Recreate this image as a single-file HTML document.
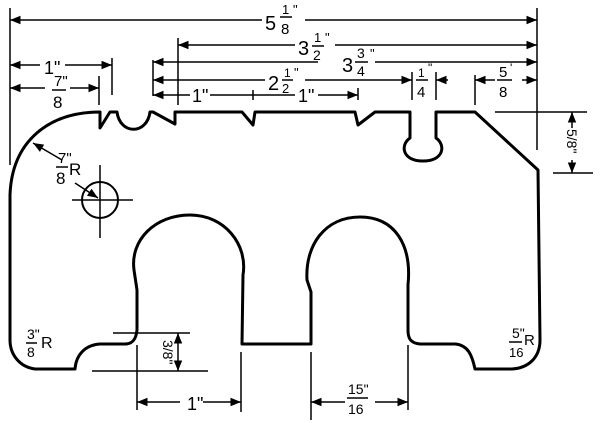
<!DOCTYPE html>
<html><head><meta charset="utf-8"><style>
html,body{margin:0;padding:0;background:#fff;}
svg{display:block;}
text{font-family:"Liberation Sans",sans-serif;fill:#000;}
</style></head><body>
<svg width="600" height="423" viewBox="0 0 600 423" xmlns="http://www.w3.org/2000/svg">
<defs>
<marker id="a" viewBox="0 0 10 10" refX="10" refY="5" markerWidth="7" markerHeight="7" orient="auto-start-reverse"><path d="M0,1 L10,5 L0,9 z" fill="#000"/></marker>
</defs>
<g fill="none" stroke="#000" stroke-width="3" stroke-linejoin="round">
<path d="M10,195 C12,140 50,112 100,112 L100,128 L110,112 L117,112 C120,135 147,135 150,112 L153,112 L175,124 L175,112 L242,112 L253,125 L255,112 L355,112 L358,125 L375,112 L410,112 L410,138 C400,145 402,161 423,161 C444,161 446,145 436,138 L436,112 L475,112 L538,170 L540,340 C540,358 528,368 512,369 L475,369 C472,355 468,345 455,344 L420,344 C410,343 408,338 408,330 L408,285 C412,245 395,217 360,217 C325,217 305,245 307,280 L311,292 L311,344 L242,344 L243,275 C248,245 225,215 190,215 C155,215 130,240 134,270 L137,290 L137,330 C136,340 132,344 125,344 L100,344 C85,345 76,355 75,369 L35,369 C20,367 10,355 10,340 Z"/>
</g>
<g fill="none" stroke="#000" stroke-width="1.5">
<circle cx="100" cy="200" r="18" stroke-width="2"/>
<line x1="72" y1="200" x2="133" y2="200"/>
<line x1="100" y1="165" x2="100" y2="238"/>
<line x1="10" y1="8" x2="10" y2="165"/>
<line x1="537" y1="8" x2="537" y2="150"/>
<line x1="178" y1="38" x2="178" y2="105"/>
<line x1="153" y1="60" x2="153" y2="96"/>
<line x1="112" y1="58" x2="112" y2="95"/>
<line x1="99" y1="76" x2="99" y2="105"/>
<line x1="253" y1="90" x2="253" y2="100"/>
<line x1="358" y1="88" x2="358" y2="100"/>
<line x1="412" y1="72" x2="412" y2="100"/>
<line x1="436" y1="72" x2="436" y2="100"/>
<line x1="475" y1="75" x2="475" y2="105"/>
<line x1="495" y1="112" x2="587" y2="112"/>
<line x1="553" y1="173" x2="593" y2="173"/>
<line x1="113" y1="333" x2="190" y2="333"/>
<line x1="92" y1="371" x2="208" y2="371"/>
<line x1="137" y1="345" x2="137" y2="410"/>
<line x1="241" y1="352" x2="241" y2="412"/>
<line x1="311" y1="352" x2="311" y2="420"/>
<line x1="408" y1="345" x2="408" y2="410"/>
<line x1="10" y1="20" x2="262" y2="20" marker-start="url(#a)"/>
<line x1="305" y1="20" x2="537" y2="20" marker-end="url(#a)"/>
<line x1="178" y1="45" x2="295" y2="45" marker-start="url(#a)"/>
<line x1="335" y1="45" x2="537" y2="45" marker-end="url(#a)"/>
<line x1="153" y1="62" x2="318" y2="62" marker-start="url(#a)"/>
<line x1="375" y1="62" x2="537" y2="62" marker-end="url(#a)"/>
<line x1="153" y1="80" x2="265" y2="80" marker-start="url(#a)"/>
<line x1="305" y1="80" x2="412" y2="80" marker-end="url(#a)"/>
<line x1="448" y1="80" x2="436" y2="80" marker-end="url(#a)"/>
<line x1="475" y1="80" x2="495" y2="80" marker-start="url(#a)"/>
<line x1="522" y1="80" x2="537" y2="80" marker-end="url(#a)"/>
<line x1="153" y1="95" x2="190" y2="95" marker-start="url(#a)"/>
<line x1="210" y1="95" x2="295" y2="95"/>
<line x1="318" y1="95" x2="358" y2="95" marker-end="url(#a)"/>
<line x1="10" y1="65" x2="40" y2="65" marker-start="url(#a)"/>
<line x1="65" y1="65" x2="112" y2="65" marker-end="url(#a)"/>
<line x1="10" y1="88" x2="45" y2="88" marker-start="url(#a)"/>
<line x1="70" y1="88" x2="99" y2="88" marker-end="url(#a)"/>
<line x1="572" y1="128" x2="572" y2="112" marker-end="url(#a)"/>
<line x1="572" y1="160" x2="572" y2="173" marker-end="url(#a)"/>
<line x1="178" y1="333" x2="178" y2="371" marker-start="url(#a)" marker-end="url(#a)"/>
<line x1="137" y1="402" x2="180" y2="402" marker-start="url(#a)"/>
<line x1="203" y1="402" x2="241" y2="402" marker-end="url(#a)"/>
<line x1="311" y1="402" x2="345" y2="402" marker-start="url(#a)"/>
<line x1="375" y1="402" x2="408" y2="402" marker-end="url(#a)"/>
<line x1="62" y1="160" x2="33" y2="143" marker-end="url(#a)"/>
<line x1="75" y1="183" x2="98" y2="198" marker-end="url(#a)"/>
</g>
<g font-size="20">
<text x="265" y="30">5</text><text x="282" y="14" font-size="13">1</text><line x1="280" y1="17" x2="292" y2="17" stroke="#000" stroke-width="1.5"/><text x="281" y="34" font-size="15">8</text><text x="293" y="14" font-size="13">"</text>
<text x="298" y="55">3</text><text x="314" y="42" font-size="13">1</text><line x1="312" y1="46" x2="324" y2="46" stroke="#000" stroke-width="1.5"/><text x="313" y="60" font-size="14">2</text><text x="325" y="42" font-size="13">"</text>
<text x="342" y="72">3</text><text x="357" y="58" font-size="14">3</text><line x1="355" y1="62" x2="368" y2="62" stroke="#000" stroke-width="1.5"/><text x="357" y="76" font-size="14">4</text><text x="370" y="58" font-size="13">"</text>
<text x="268" y="90">2</text><text x="284" y="77" font-size="12">1</text><line x1="282" y1="80" x2="293" y2="80" stroke="#000" stroke-width="1.5"/><text x="282" y="93" font-size="13">2</text><text x="294" y="77" font-size="13">"</text>
<text x="192" y="102" font-size="18">1"</text>
<text x="298" y="102" font-size="18">1"</text>
<text x="418" y="77" font-size="12">1</text><line x1="416" y1="80" x2="428" y2="80" stroke="#000" stroke-width="1.5"/><text x="417" y="97" font-size="15">4</text><text x="428" y="72" font-size="12">"</text>
<text x="499" y="77" font-size="15">5</text><line x1="497" y1="80" x2="512" y2="80" stroke="#000" stroke-width="1.5"/><text x="499" y="97" font-size="15">8</text><text x="510" y="72" font-size="12">'</text>
<text x="44" y="74" font-size="18">1"</text>
<text x="54" y="86" font-size="15">7"</text><line x1="52" y1="90" x2="66" y2="90" stroke="#000" stroke-width="1.5"/><text x="53" y="108" font-size="17">8</text>
<text x="58" y="163" font-size="15">7"</text><line x1="56" y1="167" x2="68" y2="167" stroke="#000" stroke-width="1.5"/><text x="69" y="175" font-size="17">R</text><text x="56" y="184" font-size="17">8</text>
<text transform="translate(567,129) rotate(90)" font-size="14">5/8"</text>
<text transform="translate(163,340) rotate(90)" font-size="14">3/8"</text>
<text x="187" y="410" font-size="18">1"</text>
<text x="348" y="394" font-size="14">15"</text><line x1="347" y1="398" x2="368" y2="398" stroke="#000" stroke-width="1.5"/><text x="348" y="414" font-size="14">16</text>
<text x="27" y="339" font-size="14">3"</text><line x1="26" y1="343" x2="37" y2="343" stroke="#000" stroke-width="1.5"/><text x="41" y="348" font-size="16">R</text><text x="27" y="357" font-size="14">8</text>
<text x="512" y="338" font-size="14">5"</text><line x1="509" y1="342" x2="522" y2="342" stroke="#000" stroke-width="1.5"/><text x="524" y="345" font-size="15">R</text><text x="509" y="357" font-size="13">16</text>
</g>
</svg>
</body></html>
